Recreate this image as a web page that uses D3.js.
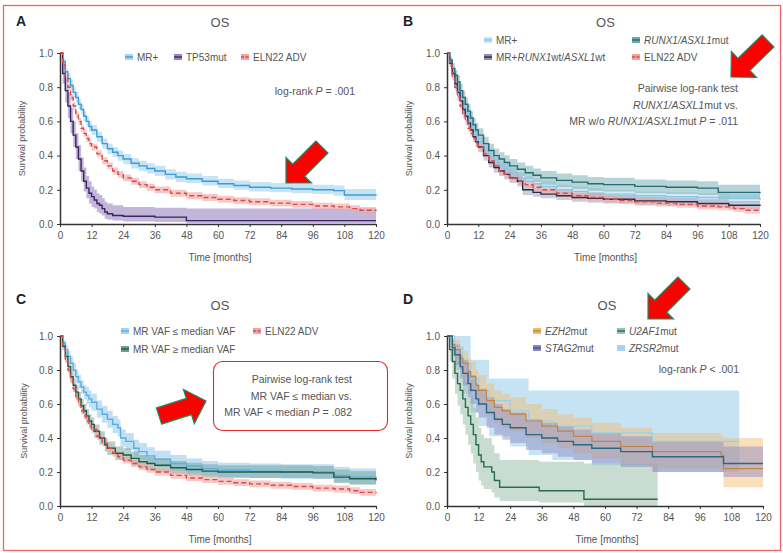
<!DOCTYPE html>
<html>
<head>
<meta charset="utf-8">
<script src="https://cdn.jsdelivr.net/npm/d3@7"></script>
<style>
  body { margin: 0; background: #fff; }
  svg text { font-family: "Liberation Sans", Arial, sans-serif; }
</style>
</head>
<body>
<svg id="fig" width="783" height="553"></svg>
<script>
// tick values
const xTicks = [0, 12, 24, 36, 48, 60, 72, 84, 96, 108, 120];
const yTicks = [0, 0.2, 0.4, 0.6, 0.8, 1.0];

// KM estimates: [month, survival, lower CI, upper CI]
const ELN22 = [[0,1,1,1],[1,0.93,0.92,0.95],[2,0.86,0.84,0.88],[3,0.8,0.78,0.82],[4,0.74,0.72,0.76],[5,0.69,0.67,0.71],[6,0.64,0.62,0.66],[7,0.6,0.58,0.62],[8,0.56,0.54,0.58],[9,0.53,0.51,0.55],[10,0.5,0.48,0.52],[11,0.47,0.45,0.49],[12,0.45,0.43,0.47],[14,0.41,0.39,0.43],[16,0.37,0.35,0.39],[18,0.34,0.32,0.36],[20,0.31,0.29,0.33],[22,0.29,0.27,0.31],[24,0.27,0.25,0.29],[27,0.25,0.23,0.27],[30,0.23,0.21,0.25],[33,0.215,0.195,0.235],[36,0.2,0.18,0.22],[42,0.18,0.16,0.2],[48,0.165,0.145,0.185],[54,0.155,0.135,0.175],[60,0.145,0.125,0.165],[66,0.137,0.117,0.157],[72,0.13,0.11,0.15],[80,0.122,0.102,0.142],[88,0.115,0.095,0.135],[96,0.105,0.085,0.125],[104,0.1,0.08,0.12],[110,0.09,0.07,0.11],[114,0.08,0.06,0.1],[120,0.075,0.055,0.095]];

const A_MR = [[0,1,1,1],[1,0.95,0.93,0.97],[2,0.89,0.87,0.91],[3,0.85,0.82,0.88],[4,0.81,0.78,0.84],[5,0.77,0.74,0.8],[6,0.74,0.71,0.77],[7,0.7,0.67,0.73],[8,0.67,0.64,0.7],[9,0.63,0.6,0.66],[10,0.6,0.57,0.63],[11,0.57,0.54,0.6],[12,0.55,0.52,0.58],[14,0.51,0.48,0.54],[16,0.47,0.44,0.5],[18,0.44,0.41,0.47],[20,0.42,0.39,0.45],[22,0.4,0.37,0.43],[24,0.38,0.35,0.41],[27,0.355,0.325,0.385],[30,0.34,0.31,0.37],[33,0.325,0.295,0.355],[36,0.31,0.28,0.34],[40,0.29,0.26,0.32],[44,0.275,0.245,0.305],[48,0.265,0.24,0.295],[54,0.25,0.225,0.28],[60,0.235,0.21,0.265],[66,0.225,0.2,0.255],[72,0.215,0.19,0.245],[80,0.21,0.185,0.24],[88,0.205,0.18,0.235],[96,0.2,0.175,0.23],[104,0.195,0.165,0.225],[108,0.17,0.14,0.205],[120,0.165,0.135,0.2]];
const A_TP53 = [[0,1,1,1],[1,0.88,0.82,0.93],[2,0.78,0.71,0.85],[3,0.69,0.62,0.77],[4,0.6,0.53,0.68],[5,0.52,0.45,0.6],[6,0.45,0.38,0.53],[7,0.38,0.31,0.46],[8,0.31,0.25,0.39],[9,0.25,0.19,0.33],[10,0.21,0.15,0.28],[11,0.18,0.12,0.25],[12,0.16,0.1,0.22],[13,0.14,0.09,0.2],[14,0.12,0.07,0.18],[15,0.11,0.06,0.17],[16,0.09,0.05,0.15],[17,0.07,0.03,0.13],[18,0.06,0.025,0.12],[20,0.05,0.02,0.11],[24,0.045,0.015,0.1],[36,0.04,0.012,0.095],[48,0.02,0.004,0.09],[120,0.02,0.004,0.08]];

const B_MR = [[0,1,1,1],[1,0.95,0.93,0.97],[2,0.89,0.87,0.91],[3,0.84,0.81,0.87],[4,0.79,0.76,0.82],[5,0.74,0.71,0.77],[6,0.7,0.67,0.73],[7,0.66,0.63,0.69],[8,0.62,0.59,0.65],[9,0.58,0.55,0.61],[10,0.54,0.51,0.57],[11,0.51,0.48,0.54],[12,0.48,0.45,0.51],[14,0.43,0.4,0.46],[16,0.39,0.36,0.42],[18,0.36,0.33,0.39],[20,0.34,0.31,0.37],[22,0.32,0.29,0.35],[24,0.3,0.27,0.33],[27,0.27,0.24,0.3],[30,0.25,0.22,0.28],[33,0.235,0.205,0.265],[36,0.22,0.19,0.25],[42,0.2,0.175,0.23],[48,0.19,0.165,0.22],[54,0.18,0.155,0.21],[60,0.175,0.15,0.2],[72,0.165,0.14,0.19],[84,0.16,0.135,0.185],[96,0.155,0.13,0.18],[108,0.15,0.125,0.175],[120,0.14,0.115,0.17]];
const B_RUNX1 = [[0,1,1,1],[1,0.96,0.94,0.98],[2,0.91,0.88,0.94],[3,0.87,0.83,0.9],[4,0.83,0.79,0.87],[5,0.78,0.74,0.82],[6,0.74,0.7,0.78],[7,0.7,0.66,0.74],[8,0.66,0.62,0.7],[9,0.62,0.58,0.66],[10,0.58,0.54,0.62],[11,0.55,0.51,0.59],[12,0.52,0.48,0.56],[14,0.47,0.43,0.51],[16,0.43,0.39,0.47],[18,0.4,0.36,0.44],[20,0.38,0.34,0.42],[22,0.36,0.32,0.4],[24,0.34,0.3,0.38],[27,0.32,0.28,0.36],[30,0.3,0.26,0.34],[33,0.285,0.245,0.325],[36,0.27,0.23,0.31],[42,0.255,0.215,0.295],[48,0.245,0.205,0.285],[54,0.235,0.195,0.275],[60,0.23,0.19,0.27],[72,0.22,0.18,0.26],[84,0.215,0.175,0.255],[96,0.21,0.17,0.25],[104,0.185,0.145,0.23],[120,0.18,0.14,0.225]];
const B_WT = [[0,1,1,1],[1,0.94,0.92,0.96],[2,0.88,0.86,0.9],[3,0.82,0.79,0.85],[4,0.77,0.74,0.8],[5,0.72,0.69,0.75],[6,0.67,0.64,0.7],[7,0.63,0.6,0.66],[8,0.59,0.56,0.62],[9,0.55,0.52,0.58],[10,0.51,0.48,0.54],[11,0.48,0.45,0.51],[12,0.45,0.42,0.48],[14,0.4,0.37,0.43],[16,0.36,0.33,0.39],[18,0.33,0.3,0.36],[20,0.31,0.28,0.34],[22,0.29,0.26,0.32],[24,0.27,0.24,0.3],[27,0.25,0.22,0.28],[29,0.2,0.17,0.23],[33,0.185,0.16,0.21],[36,0.175,0.15,0.2],[42,0.165,0.14,0.19],[48,0.155,0.13,0.18],[54,0.15,0.125,0.175],[60,0.145,0.12,0.17],[72,0.135,0.11,0.16],[84,0.13,0.105,0.155],[96,0.12,0.095,0.145],[108,0.11,0.085,0.135],[120,0.105,0.08,0.13]];

const C_LOW = [[0,1,1,1],[1,0.96,0.94,0.98],[2,0.92,0.89,0.95],[3,0.88,0.85,0.91],[4,0.84,0.8,0.88],[5,0.8,0.76,0.84],[6,0.76,0.72,0.8],[7,0.73,0.69,0.77],[8,0.7,0.66,0.74],[9,0.67,0.63,0.71],[10,0.65,0.6,0.7],[11,0.63,0.58,0.68],[12,0.61,0.56,0.66],[14,0.57,0.52,0.62],[16,0.54,0.49,0.59],[18,0.51,0.46,0.56],[20,0.48,0.43,0.53],[22,0.46,0.41,0.51],[23,0.4,0.35,0.45],[25,0.38,0.33,0.43],[28,0.34,0.29,0.39],[30,0.32,0.27,0.37],[33,0.295,0.25,0.345],[36,0.275,0.23,0.325],[42,0.25,0.205,0.3],[48,0.235,0.19,0.28],[54,0.22,0.18,0.265],[60,0.21,0.17,0.255],[72,0.205,0.165,0.25],[84,0.2,0.16,0.245],[96,0.2,0.16,0.245],[104,0.18,0.14,0.23],[110,0.17,0.13,0.22],[120,0.165,0.125,0.215]];
const C_HIGH = [[0,1,1,1],[1,0.94,0.92,0.96],[2,0.88,0.85,0.91],[3,0.82,0.79,0.85],[4,0.76,0.73,0.8],[5,0.71,0.67,0.75],[6,0.67,0.63,0.71],[7,0.63,0.59,0.67],[8,0.59,0.55,0.63],[9,0.56,0.52,0.6],[10,0.53,0.49,0.57],[11,0.5,0.46,0.54],[12,0.48,0.44,0.52],[13,0.44,0.4,0.48],[15,0.4,0.36,0.44],[17,0.36,0.32,0.4],[18,0.34,0.3,0.38],[21,0.31,0.27,0.35],[24,0.3,0.26,0.34],[27,0.28,0.24,0.32],[30,0.26,0.22,0.3],[33,0.25,0.21,0.29],[36,0.24,0.2,0.28],[42,0.225,0.19,0.265],[48,0.215,0.18,0.255],[54,0.205,0.17,0.245],[60,0.2,0.165,0.24],[72,0.2,0.165,0.24],[84,0.2,0.165,0.24],[96,0.195,0.16,0.235],[104,0.17,0.135,0.215],[110,0.16,0.125,0.205],[120,0.15,0.115,0.195]];

const D_EZH2 = [[0,1,1,1],[2,0.95,0.9,1],[3,0.92,0.86,0.98],[5,0.87,0.8,0.94],[6,0.84,0.76,0.91],[8,0.79,0.7,0.87],[9,0.76,0.67,0.85],[11,0.71,0.62,0.8],[12,0.68,0.59,0.77],[15,0.62,0.53,0.72],[18,0.58,0.49,0.68],[21,0.56,0.46,0.66],[24,0.54,0.44,0.64],[30,0.5,0.4,0.6],[36,0.47,0.37,0.57],[42,0.44,0.34,0.54],[48,0.41,0.31,0.52],[55,0.38,0.28,0.49],[66,0.35,0.25,0.46],[78,0.32,0.22,0.43],[104,0.3,0.2,0.41],[105,0.22,0.11,0.4],[120,0.22,0.11,0.4]];
const D_STAG2 = [[0,1,1,1],[2,0.93,0.88,0.98],[3,0.89,0.83,0.95],[5,0.82,0.75,0.89],[6,0.78,0.71,0.86],[8,0.72,0.64,0.8],[9,0.68,0.6,0.77],[11,0.63,0.55,0.72],[12,0.6,0.52,0.69],[15,0.55,0.46,0.64],[18,0.51,0.42,0.6],[21,0.48,0.39,0.57],[24,0.46,0.37,0.55],[30,0.42,0.33,0.51],[36,0.4,0.31,0.49],[42,0.38,0.29,0.47],[48,0.36,0.27,0.45],[55,0.34,0.25,0.43],[66,0.32,0.23,0.41],[78,0.29,0.2,0.38],[104,0.29,0.2,0.38],[105,0.25,0.17,0.35],[120,0.25,0.17,0.35]];
const D_U2AF1 = [[0,1,1,1],[1,0.92,0.85,0.99],[2,0.85,0.75,0.95],[3,0.78,0.66,0.9],[4,0.72,0.59,0.85],[5,0.68,0.54,0.81],[6,0.63,0.48,0.77],[7,0.58,0.42,0.73],[8,0.53,0.36,0.69],[9,0.48,0.31,0.64],[10,0.42,0.25,0.58],[11,0.36,0.2,0.52],[12,0.3,0.15,0.46],[13,0.26,0.12,0.42],[14,0.23,0.1,0.4],[17,0.2,0.08,0.36],[18,0.15,0.05,0.31],[20,0.11,0.03,0.27],[35,0.09,0.02,0.26],[52,0.04,0,0.25],[80,0.04,0,0.25]];
const D_ZRSR2 = [[0,1,1,1],[3,0.93,0.8,1],[6,0.84,0.66,1],[9,0.75,0.55,0.86],[12,0.68,0.47,0.86],[16,0.62,0.41,0.75],[24,0.56,0.35,0.75],[31,0.5,0.3,0.68],[40,0.47,0.27,0.68],[55,0.43,0.24,0.68],[78,0.38,0.2,0.68],[111,0.38,0.2,0.68]];

const svg = d3.select("#fig");

// red frame round the whole figure
svg.append("rect")
    .attr("x", 3.5).attr("y", 5.5)
    .attr("width", 777).attr("height", 545)
    .attr("fill", "none")
    .attr("stroke", "#f06464")
    .attr("stroke-width", 1.3);

const TXT = "#555";

const panels = [
  {
    letter: "A", lx: 16, ly: 26, box: [60, 376, 53, 224], ylabX: 22,
    series: [
      { data: A_MR, line: "#3d9bd6", band: "#a9d5f0", bandOp: 0.65 },
      { data: A_TP53, line: "#3b2460", band: "#9a85c2", bandOp: 0.6 },
      { data: ELN22, line: "#d94a4a", band: "#f2a5a0", bandOp: 0.6, dash: "5,3" }
    ],
    legend: [
      { s: 0, x: 125, y: 57, label: [["MR+"]] },
      { s: 1, x: 174, y: 57, label: [["TP53mut"]] },
      { s: 2, x: 241, y: 57, label: [["ELN22 ADV"]] }
    ],
    note: { x: 355, y: 95, lines: [[["log-rank "], ["P", true], [" = .001"]]] }
  },
  {
    letter: "B", lx: 403, ly: 26, box: [447, 760, 53, 224], ylabX: 409,
    series: [
      { data: B_MR, line: "#86c6e6", band: "#c5e4f3", bandOp: 0.75 },
      { data: B_WT, line: "#2c2c48", band: "#8f8fb0", bandOp: 0.45 },
      { data: B_RUNX1, line: "#256a78", band: "#6fa9ae", bandOp: 0.5 },
      { data: ELN22, line: "#d94a4a", band: "#f2a5a0", bandOp: 0.55, dash: "5,3" }
    ],
    legend: [
      { s: 0, x: 484, y: 40, label: [["MR+"]] },
      { s: 2, x: 632, y: 40, label: [["RUNX1/ASXL1", true], ["mut"]] },
      { s: 1, x: 484, y: 57, label: [["MR+"], ["RUNX1", true], ["wt/"], ["ASXL1", true], ["wt"]] },
      { s: 3, x: 632, y: 57, label: [["ELN22 ADV"]] }
    ],
    note: { x: 738, y: 92, lines: [
      [["Pairwise log-rank test"]],
      [["RUNX1/ASXL1", true], ["mut vs."]],
      [["MR w/o "], ["RUNX1/ASXL1", true], ["mut "], ["P", true], [" = .011"]]
    ] }
  },
  {
    letter: "C", lx: 16, ly: 304, box: [60, 376, 336, 506], ylabX: 24,
    series: [
      { data: C_LOW, line: "#5aaee0", band: "#a8d3ef", bandOp: 0.7 },
      { data: C_HIGH, line: "#1f5a4a", band: "#6f9f94", bandOp: 0.5 },
      { data: ELN22, line: "#d94a4a", band: "#f2a5a0", bandOp: 0.6, dash: "5,3" }
    ],
    legend: [
      { s: 0, x: 121, y: 331, label: [["MR VAF ≤ median VAF"]] },
      { s: 2, x: 253, y: 331, label: [["ELN22 ADV"]] },
      { s: 1, x: 121, y: 349, label: [["MR VAF ≥ median VAF"]] }
    ],
    note: { x: 352, y: 383, lines: [
      [["Pairwise log-rank test"]],
      [["MR VAF ≤ median vs."]],
      [["MR VAF < median "], ["P", true], [" = .082"]]
    ] }
  },
  {
    letter: "D", lx: 403, ly: 304, box: [447, 763, 336, 506], ylabX: 409,
    series: [
      { data: D_ZRSR2, line: "#9ccfe8", band: "#a8d4ee", bandOp: 0.65, lw: 1.1 },
      { data: D_U2AF1, line: "#2a6b50", band: "#9cc0ad", bandOp: 0.55 },
      { data: D_EZH2, line: "#c08446", band: "#f2b96a", bandOp: 0.45, lw: 1.2 },
      { data: D_STAG2, line: "#2c6680", band: "#8a85c0", bandOp: 0.45 }
    ],
    legend: [
      { s: 2, x: 533, y: 331, label: [["EZH2", true], ["mut"]] },
      { s: 1, x: 617, y: 331, label: [["U2AF1", true], ["mut"]] },
      { s: 3, x: 533, y: 348, label: [["STAG2", true], ["mut"]] },
      { s: 0, x: 617, y: 348, label: [["ZRSR2", true], ["mut"]] }
    ],
    note: { x: 739, y: 373, lines: [[["log-rank "], ["P", true], [" < .001"]]] }
  }
];

function addRich(g, x, y, parts, anchor, size) {
  const t = g.append("text")
      .attr("x", x).attr("y", y)
      .attr("text-anchor", anchor)
      .attr("font-size", size)
      .attr("fill", TXT);
  parts.forEach(p => {
    t.append("tspan")
        .attr("font-style", p[1] ? "italic" : "normal")
        .text(p[0]);
  });
  return t;
}

function drawPanel(p) {
  const [x0, x1, yT, yB] = p.box;
  const x = d3.scaleLinear().domain([0, 120]).range([x0, x1]);
  const y = d3.scaleLinear().domain([0, 1]).range([yB, yT]);
  const g = svg.append("g");

  const area = d3.area()
      .curve(d3.curveStepAfter)
      .x(d => x(d[0]))
      .y0(d => y(d[2]))
      .y1(d => y(d[3]));
  const line = d3.line()
      .curve(d3.curveStepAfter)
      .x(d => x(d[0]))
      .y(d => y(d[1]));

  // confidence bands first, lines on top
  p.series.forEach(s => {
    g.append("path")
        .attr("d", area(s.data))
        .attr("fill", s.band)
        .attr("fill-opacity", s.bandOp);
  });
  p.series.forEach(s => {
    g.append("path")
        .attr("d", line(s.data))
        .attr("fill", "none")
        .attr("stroke", s.line)
        .attr("stroke-width", s.lw || 1.4)
        .attr("stroke-dasharray", s.dash || null);
  });

  // axes
  const ax = g.append("g")
      .attr("transform", `translate(0,${yB})`)
      .call(d3.axisBottom(x).tickValues(xTicks).tickSize(3).tickSizeOuter(0));
  const ay = g.append("g")
      .attr("transform", `translate(${x0},0)`)
      .call(d3.axisLeft(y).tickValues(yTicks).tickFormat(d3.format(".1f")).tickSize(3).tickSizeOuter(0));
  [ax, ay].forEach(a => {
    a.select(".domain").attr("stroke", "#333").attr("stroke-width", 1.5);
    a.selectAll(".tick line").attr("stroke", "#333").attr("stroke-width", 1);
    a.selectAll(".tick text")
        .attr("fill", TXT)
        .attr("font-size", 10)
        .attr("font-family", "Liberation Sans, Arial, sans-serif");
  });
  ax.selectAll(".tick text").attr("dy", "1.05em").attr("y", 4);
  ay.selectAll(".tick text").attr("x", -7);

  // titles
  g.append("text")
      .attr("x", p.lx).attr("y", p.ly)
      .attr("font-size", 14).attr("font-weight", "bold")
      .attr("fill", "#222")
      .text(p.letter);
  g.append("text")
      .attr("x", (x0 + x1) / 2 + 2).attr("y", yT - 26)
      .attr("text-anchor", "middle")
      .attr("font-size", 13)
      .attr("fill", TXT)
      .text("OS");
  g.append("text")
      .attr("x", (x0 + x1) / 2 + 2).attr("y", yB + 37)
      .attr("text-anchor", "middle")
      .attr("font-size", 10)
      .attr("fill", TXT)
      .text("Time [months]");
  g.append("text")
      .attr("transform", `translate(${p.ylabX + 3},${(yT + yB) / 2}) rotate(-90)`)
      .attr("text-anchor", "middle")
      .attr("font-size", 9)
      .attr("fill", TXT)
      .text("Survival probability");

  // legend
  p.legend.forEach(l => {
    const s = p.series[l.s];
    g.append("rect")
        .attr("x", l.x).attr("y", l.y - 3)
        .attr("width", 8).attr("height", 6)
        .attr("fill", s.band);
    g.append("line")
        .attr("x1", l.x).attr("x2", l.x + 8)
        .attr("y1", l.y).attr("y2", l.y)
        .attr("stroke", s.line)
        .attr("stroke-width", 1.4)
        .attr("stroke-dasharray", s.dash ? "3,1.5" : null);
    addRich(g, l.x + 12, l.y + 3.5, l.label, "start", 10);
  });

  // annotation text
  p.note.lines.forEach((ln, i) => {
    addRich(g, p.note.x, p.note.y + i * 16.5, ln, "end", 10.5);
  });
}

panels.forEach(drawPanel);

// rounded box round the panel C test
svg.append("rect")
    .attr("x", 213.5).attr("y", 361.5)
    .attr("width", 174).attr("height", 69)
    .attr("rx", 9)
    .attr("fill", "none")
    .attr("stroke", "#e02828")
    .attr("stroke-width", 1.1);

// red call-out arrows
function arrow(tip, tail) {
  const dx = tip[0] - tail[0], dy = tip[1] - tail[1];
  const len = Math.hypot(dx, dy);
  const ux = dx / len, uy = dy / len, nx = -uy, ny = ux;
  const head = 18, hw = 18, sw = 8.5;
  const bx = tip[0] - ux * head, by = tip[1] - uy * head;
  const pts = [
    [tail[0] + nx * sw, tail[1] + ny * sw],
    [bx + nx * sw, by + ny * sw],
    [bx + nx * hw, by + ny * hw],
    tip,
    [bx - nx * hw, by - ny * hw],
    [bx - nx * sw, by - ny * sw],
    [tail[0] - nx * sw, tail[1] - ny * sw]
  ];
  svg.append("path")
      .attr("d", "M" + pts.map(q => q.join(",")).join("L") + "Z")
      .attr("fill", "#ff0000")
      .attr("stroke", "#1c8a62")
      .attr("stroke-width", 1.2);
}
arrow([286, 183], [322, 147]);
arrow([731, 77], [768, 41]);
arrow([206, 401], [159, 416]);
arrow([648, 319], [684, 283]);
</script>
</body>
</html>
